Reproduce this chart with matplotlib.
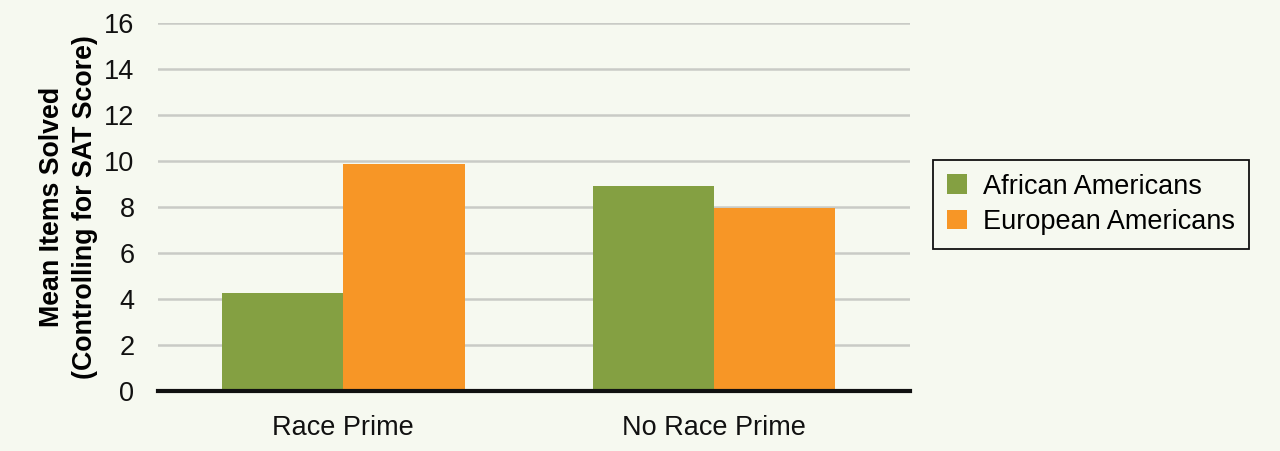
import numpy as np
import matplotlib
matplotlib.use("Agg")
import matplotlib.pyplot as plt

conditions = ["Race Prime", "No Race Prime"]
groups = ["African Americans", "European Americans"]
african = [4.27, 8.92]
european = [9.87, 7.97]
yticks = [0, 2, 4, 6, 8, 10, 12, 14, 16]

BG = "#f6f9f0"
GREEN = "#84a042"
ORANGE = "#f79626"

plt.rcParams['font.family'] = ['Liberation Sans', 'DejaVu Sans']

fig = plt.figure(figsize=(12.8, 4.51), dpi=100, facecolor=BG)
ax = fig.add_axes([158 / 1280, 1 - 391 / 451, 752 / 1280, 368 / 451])
ax.set_facecolor(BG)

x = np.arange(len(conditions))
w = 0.327
b1 = ax.bar(x - w / 2, african, w, color=GREEN, label=groups[0], zorder=3)
b2 = ax.bar(x + w / 2, european, w, color=ORANGE, label=groups[1], zorder=3)

ax.set_xlim(-0.5, 1.529)
ax.set_ylim(0, 16)
ax.set_yticks(yticks)
ax.set_xticks(x)
ax.set_xticklabels(conditions)
ax.yaxis.grid(True, color="#c9cbc6", linewidth=1.8, zorder=0)
ax.set_axisbelow(True)

for s in ["top", "right", "left"]:
    ax.spines[s].set_visible(False)
ax.spines["bottom"].set_linewidth(3)
ax.spines["bottom"].set_color("#111111")
ax.spines["bottom"].set_zorder(4)

ax.tick_params(axis="both", length=0, labelsize=19.5, colors="#111111")
ax.tick_params(axis="y", pad=17)
ax.tick_params(axis="x", pad=17)

ax.set_ylabel("Mean Items Solved\n(Controlling for SAT Score)", fontsize=19.3,
              fontweight="bold", labelpad=4, linespacing=1.38)

leg = fig.legend(handles=[b1, b2], loc="upper left",
                 bbox_to_anchor=(933 / 1280, 1 - 160 / 451),
                 fontsize=19.5, frameon=True, fancybox=False,
                 edgecolor="#111111", facecolor=BG, framealpha=1,
                 handlelength=0.75, handleheight=0.75, handletextpad=0.6,
                 borderpad=0.5, borderaxespad=0, labelspacing=0.35)
leg.get_frame().set_linewidth(1.3)
# nudge handles a bit right to match the boxed legend in the source
leg._legend_box.sep = 4

fig.savefig("out.png", dpi=100, facecolor=BG)
